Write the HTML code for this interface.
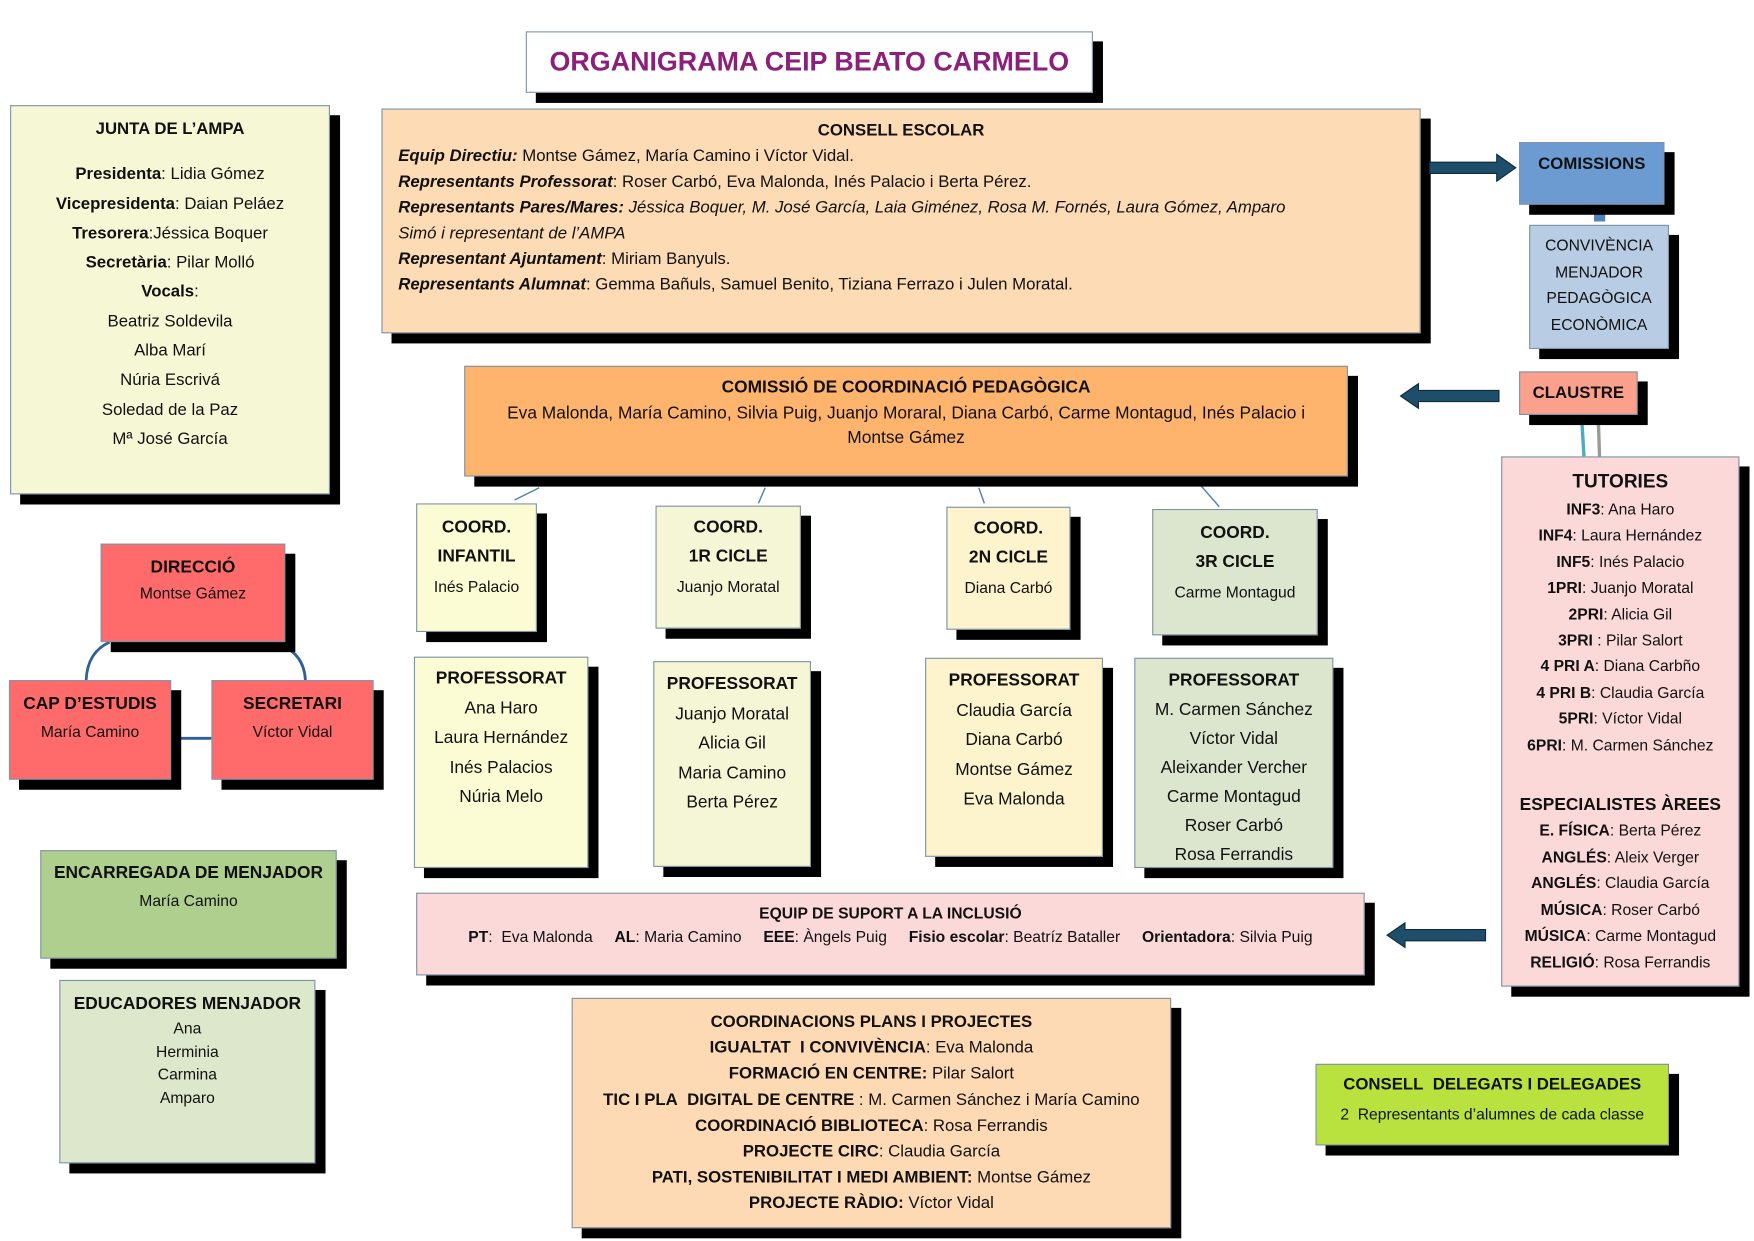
<!DOCTYPE html>
<html><head><meta charset="utf-8"><style>
html,body{margin:0;padding:0;background:#fff;width:1754px;height:1240px;overflow:hidden}
#s{position:absolute;left:0;top:0;width:1568px;height:1109px;transform:scale(1.11862);transform-origin:0 0;font-family:"Liberation Sans",sans-serif;color:#111}
.b{position:absolute;box-sizing:border-box;border:1px solid #7f93a8;box-shadow:9px 9px 0 #000;text-align:center;font-size:14px}
.t{font-weight:bold}
p{margin:0}
.ar{position:absolute}
</style></head><body><div id="s">

<div class="b" style="left:470px;top:28px;width:507px;height:55px;background:#fff;color:#8b1f7a;font-weight:bold;font-size:24px;line-height:53px">ORGANIGRAMA CEIP BEATO CARMELO</div>

<div class="b" style="left:9px;top:94px;width:286px;height:348px;background:#f5f7d5;font-size:15px;line-height:26.3px;padding-top:8px">
<p class="t">JUNTA DE L’AMPA</p><p style="height:14px"></p>
<p><b>Presidenta</b>: Lidia Gómez</p><p><b>Vicepresidenta</b>: Daian Peláez</p><p><b>Tresorera</b>:Jéssica Boquer</p><p><b>Secretària</b>: Pilar Molló</p><p><b>Vocals</b>:</p><p>Beatriz Soldevila</p><p>Alba Marí</p><p>Núria Escrivá</p><p>Soledad de la Paz</p><p>Mª José García</p></div>

<div class="b" style="left:341px;top:97px;width:929px;height:201px;background:#fddbb4;text-align:left;font-size:15px;line-height:23px;padding:7px 14px">
<p class="t" style="text-align:center">CONSELL ESCOLAR</p>
<p><b><i>Equip Directiu:</i></b> Montse Gámez, María Camino i Víctor Vidal.</p>
<p><b><i>Representants Professorat</i></b>: Roser Carbó, Eva Malonda, Inés Palacio i Berta Pérez.</p>
<p><b><i>Representants Pares/Mares:</i></b> <i>Jéssica Boquer, M. José García, Laia Giménez, Rosa M. Fornés, Laura Gómez, Amparo<br>Simó i representant de l’AMPA</i></p>
<p><b><i>Representant Ajuntament</i></b>: Miriam Banyuls.</p>
<p><b><i>Representants Alumnat</i></b>: Gemma Bañuls, Samuel Benito, Tiziana Ferrazo i Julen Moratal.</p></div>

<svg class="ar" style="left:0;top:0" width="1568" height="1109">
<g fill="#1f4e6b" stroke="#0c2a3b" stroke-width="1">
<polygon points="1278,145 1338,145 1338,138 1355,150 1338,162 1338,155 1278,155"/>
<polygon points="1340,349 1268,349 1268,343 1252,354 1268,365 1268,359 1340,359"/>
<polygon points="1328,831 1256,831 1256,825 1240,836 1256,847 1256,841 1328,841"/>
</g>
<rect x="1425" y="177" width="10" height="21" fill="#4f81bd"/>
<line x1="1414" y1="374" x2="1416" y2="408" stroke="#4bacc6" stroke-width="3"/>
<line x1="1429" y1="380" x2="1430" y2="410" stroke="#999" stroke-width="3"/>
<g stroke="#4f81bd" stroke-width="1.3" fill="none">
<line x1="460" y1="447" x2="482" y2="436"/><line x1="678" y1="450" x2="684" y2="436"/>
<line x1="880" y1="450" x2="875" y2="436"/><line x1="1090" y1="453" x2="1057" y2="415"/>
</g>
<g stroke="#2e5f98" stroke-width="2.5" fill="none">
<path d="M77,608 Q78,583 98,574"/><path d="M273,608 Q272,585 250,576"/>
<line x1="153" y1="660" x2="189" y2="660"/>
</g>
</svg>

<div class="b" style="left:1358px;top:127px;width:130px;height:56px;background:#6c9bd2;font-weight:bold;font-size:15px;padding-top:10px">COMISSIONS</div>
<div class="b" style="left:1367px;top:201px;width:125px;height:111px;background:#b8cce4;font-size:14px;line-height:23.5px;padding-top:6px"><p>CONVIVÈNCIA</p><p>MENJADOR</p><p>PEDAGÒGICA</p><p>ECONÒMICA</p></div>
<div class="b" style="left:1358px;top:332px;width:106px;height:39px;background:#faa08c;font-weight:bold;font-size:15px;line-height:38px">CLAUSTRE</div>

<div class="b" style="left:1342px;top:408px;width:213px;height:474px;background:#fcd9d9;font-size:14px;line-height:23.4px;padding-top:9px">
<p class="t" style="font-size:17px;line-height:26px">TUTORIES</p>
<p><b>INF3</b>: Ana Haro</p><p><b>INF4</b>: Laura Hernández</p><p><b>INF5</b>: Inés Palacio</p><p><b>1PRI</b>: Juanjo Moratal</p><p><b>2PRI</b>: Alicia Gil</p><p><b>3PRI</b> : Pilar Salort</p><p><b>4 PRI A</b>: Diana Carbño</p><p><b>4 PRI B</b>: Claudia García</p><p><b>5PRI</b>: Víctor Vidal</p><p><b>6PRI</b>: M. Carmen Sánchez</p>
<p style="height:30px"></p>
<p class="t" style="font-size:15.5px">ESPECIALISTES ÀREES</p>
<p><b>E. FÍSICA</b>: Berta Pérez</p><p><b>ANGLÉS</b>: Aleix Verger</p><p><b>ANGLÉS</b>: Claudia García</p><p><b>MÚSICA</b>: Roser Carbó</p><p><b>MÚSICA</b>: Carme Montagud</p><p><b>RELIGIÓ</b>: Rosa Ferrandis</p></div>

<div class="b" style="left:415px;top:327px;width:790px;height:99px;background:#ffb46e;font-size:15.5px;line-height:22.5px;padding:8px 14px 0">
<p class="t">COMISSIÓ DE COORDINACIÓ PEDAGÒGICA</p>
<p>Eva Malonda, María Camino, Silvia Puig, Juanjo Moraral, Diana Carbó, Carme Montagud, Inés Palacio i Montse Gámez</p></div>

<div class="b" style="left:372px;top:450px;width:108px;height:115px;background:#fbfcd4;line-height:26px;padding-top:8px"><p class="t" style="font-size:15.5px">COORD.</p><p class="t" style="font-size:15.5px">INFANTIL</p><p>Inés Palacio</p></div>
<div class="b" style="left:586px;top:452px;width:130px;height:110px;background:#f4f6d6;line-height:26px;padding-top:6px"><p class="t" style="font-size:15.5px">COORD.</p><p class="t" style="font-size:15.5px">1R CICLE</p><p>Juanjo Moratal</p></div>
<div class="b" style="left:846px;top:453px;width:111px;height:110px;background:#fdf3cc;line-height:26px;padding-top:6px"><p class="t" style="font-size:15.5px">COORD.</p><p class="t" style="font-size:15.5px">2N CICLE</p><p>Diana Carbó</p></div>
<div class="b" style="left:1030px;top:455px;width:148px;height:113px;background:#dce6ce;line-height:26px;padding-top:8px"><p class="t" style="font-size:15.5px">COORD.</p><p class="t" style="font-size:15.5px">3R CICLE</p><p>Carme Montagud</p></div>

<div class="b" style="left:370px;top:587px;width:156px;height:189px;background:#fbfcd4;font-size:15.5px;line-height:26.5px;padding-top:6px"><p class="t">PROFESSORAT</p><p>Ana Haro</p><p>Laura Hernández</p><p>Inés Palacios</p><p>Núria Melo</p></div>
<div class="b" style="left:584px;top:591px;width:141px;height:184px;background:#f4f6d6;font-size:15.5px;line-height:26.5px;padding-top:7px"><p class="t">PROFESSORAT</p><p>Juanjo Moratal</p><p>Alicia Gil</p><p>Maria Camino</p><p>Berta Pérez</p></div>
<div class="b" style="left:827px;top:588px;width:159px;height:178px;background:#fdf3cc;font-size:15.5px;line-height:26.5px;padding-top:7px"><p class="t">PROFESSORAT</p><p>Claudia García</p><p>Diana Carbó</p><p>Montse Gámez</p><p>Eva Malonda</p></div>
<div class="b" style="left:1014px;top:588px;width:178px;height:188px;background:#dce6ce;font-size:15.5px;line-height:26px;padding-top:7px"><p class="t">PROFESSORAT</p><p>M. Carmen Sánchez</p><p>Víctor Vidal</p><p>Aleixander Vercher</p><p>Carme Montagud</p><p>Roser Carbó</p><p>Rosa Ferrandis</p></div>

<div class="b" style="left:372px;top:798px;width:848px;height:74px;background:#fcd9d9;font-size:14px;line-height:21px;padding-top:7px">
<p class="t">EQUIP DE SUPORT A LA INCLUSIÓ</p>
<p><b>PT</b>:&nbsp; Eva Malonda &nbsp;&nbsp;&nbsp; <b>AL</b>: Maria Camino &nbsp;&nbsp;&nbsp; <b>EEE</b>: Àngels Puig &nbsp;&nbsp;&nbsp; <b>Fisio escolar</b>: Beatríz Bataller &nbsp;&nbsp;&nbsp; <b>Orientadora</b>: Silvia Puig</p></div>

<div class="b" style="left:511px;top:892px;width:536px;height:206px;background:#fdd9b4;font-size:15px;line-height:23.2px;padding-top:9px">
<p class="t">COORDINACIONS PLANS I PROJECTES</p>
<p><b>IGUALTAT&nbsp; I CONVIVÈNCIA</b>: Eva Malonda</p>
<p><b>FORMACIÓ EN CENTRE:</b> Pilar Salort</p>
<p><b>TIC I PLA&nbsp; DIGITAL DE CENTRE</b> : M. Carmen Sánchez i María Camino</p>
<p><b>COORDINACIÓ BIBLIOTECA</b>: Rosa Ferrandis</p>
<p><b>PROJECTE CIRC</b>: Claudia García</p>
<p><b>PATI, SOSTENIBILITAT I MEDI AMBIENT:</b> Montse Gámez</p>
<p><b>PROJECTE RÀDIO:</b> Víctor Vidal</p></div>

<div class="b" style="left:1176px;top:951px;width:316px;height:73px;background:#b9e23f;font-size:14px;line-height:26px;padding-top:5px"><p class="t" style="font-size:15px">CONSELL&nbsp; DELEGATS I DELEGADES</p><p>2&nbsp; Representants d’alumnes de cada classe</p></div>

<div class="b" style="left:90px;top:486px;width:165px;height:88px;background:#ff6b6b;line-height:23px;padding-top:9px"><p class="t" style="font-size:15.5px">DIRECCIÓ</p><p>Montse Gámez</p></div>
<div class="b" style="left:8px;top:608px;width:145px;height:89px;background:#ff6b6b;line-height:24px;padding-top:9px"><p class="t" style="font-size:15.5px">CAP D’ESTUDIS</p><p>María Camino</p></div>
<div class="b" style="left:189px;top:608px;width:145px;height:89px;background:#ff6b6b;line-height:24px;padding-top:9px"><p class="t" style="font-size:15.5px">SECRETARI</p><p>Víctor Vidal</p></div>

<div class="b" style="left:36px;top:760px;width:265px;height:97px;background:#afcf8e;line-height:25px;padding-top:7px"><p class="t" style="font-size:15.5px">ENCARREGADA DE MENJADOR</p><p>María Camino</p></div>
<div class="b" style="left:53px;top:876px;width:229px;height:164px;background:#dde7cb;line-height:20.5px;padding-top:9px"><p class="t" style="font-size:15.5px;line-height:23px">EDUCADORES MENJADOR</p><p>Ana</p><p>Herminia</p><p>Carmina</p><p>Amparo</p></div>

</div></body></html>
